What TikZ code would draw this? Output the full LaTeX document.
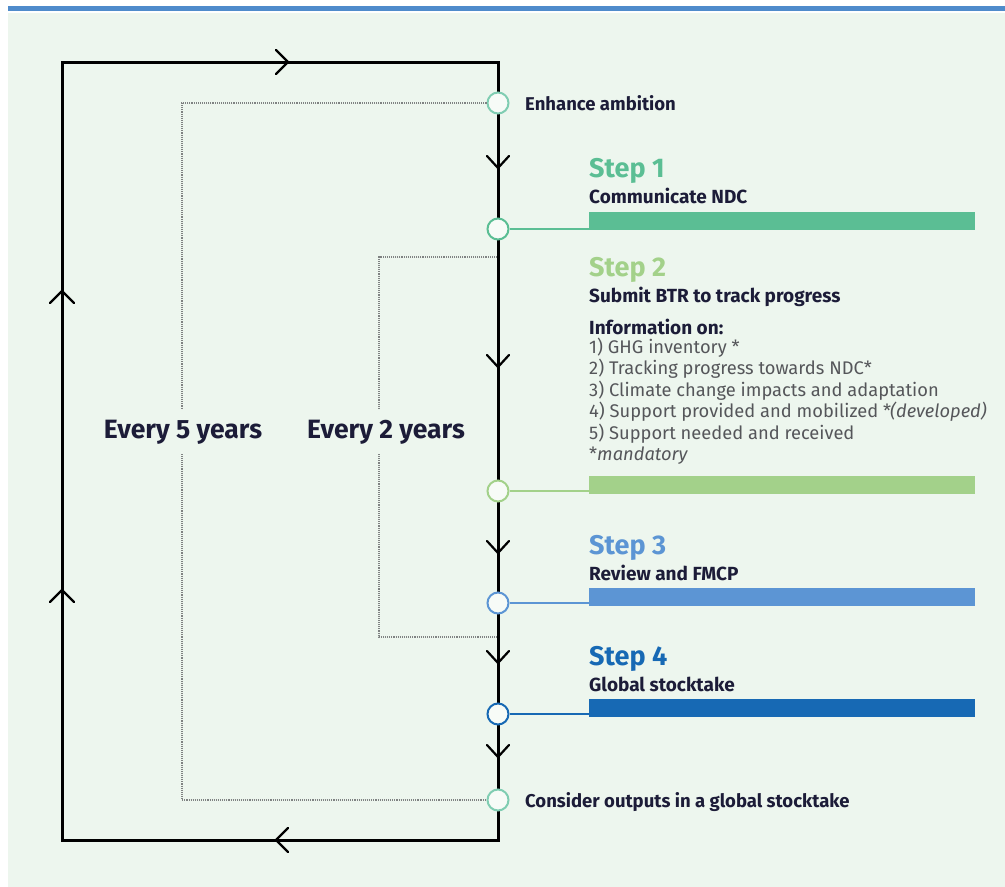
\documentclass[tikz,border=0pt]{standalone}
\usepackage{fontspec}
\setmainfont{Fira Sans}
\definecolor{bgc}{HTML}{EDF6EE}
\definecolor{topbar}{HTML}{4F8BCB}
\definecolor{cA}{HTML}{5BBE94}
\definecolor{cB}{HTML}{A3D18A}
\definecolor{cC}{HTML}{5C95D4}
\definecolor{cD}{HTML}{1769B4}
\definecolor{cE}{HTML}{80CDB2}
\definecolor{txt}{HTML}{1C1C38}
\definecolor{grey}{HTML}{55565A}
\definecolor{dotc}{HTML}{7F8282}
\begin{document}
\begin{tikzpicture}[x=1pt,y=-1pt,
  loopline/.style={line width=3pt,black},
  chev/.style={line width=2.2pt,black,line cap=round,line join=miter},
  dotline/.style={dotc,line width=1.1pt,densely dotted},
  circ/.style={circle,minimum size=21pt,inner sep=0pt,line width=2pt,fill=white!55!bgc},
  conn/.style={line width=2pt},
  barbox/.style={rectangle,minimum width=386pt,minimum height=18pt,inner sep=0pt,anchor=south west},
  lbl/.style={anchor=base west,inner sep=0pt,text=txt,font=\bfseries\fontsize{18.5}{21}\selectfont},
  steptitle/.style={anchor=base west,inner sep=0pt,font=\bfseries\fontsize{27}{30}\selectfont},
  stepsub/.style={anchor=base west,inner sep=0pt,text=txt,font=\bfseries\fontsize{19}{22}\selectfont},
  item/.style={anchor=base west,inner sep=0pt,text=grey,font=\fontsize{18.3}{21}\selectfont},
  every/.style={fill=bgc,inner xsep=3pt,inner ysep=10pt,text=txt,font=\bfseries\fontsize{26.5}{30}\selectfont}
]
\useasboundingbox (0,0) rectangle (1005,887);
\fill[white] (0,0) rectangle (1005,887);
\fill[bgc] (8,13) rectangle (1005,887);
\fill[topbar] (8,6) rectangle (1005,11);

% main loop corners
\coordinate (tl) at (62,62);
\coordinate (tr) at (498,62);
\coordinate (br) at (498,840);
\coordinate (bl) at (62,840);
\draw[loopline] (tl) -- (tr) -- (br) -- (bl) -- cycle;

% chevrons on the loop
\draw[chev] (276,50) -- (288,62) -- (276,74);
\draw[chev] (288,828) -- (276,840) -- (288,852);
\draw[chev] (50,303) -- (62,291) -- (74,303);
\draw[chev] (50,602) -- (62,590) -- (74,602);
\foreach \yy in {168,367,553,663,757}{
  \draw[chev] (487,\yy-12) -- (498,\yy) -- (509,\yy-12);
}

% circles
\node[circ,draw=cE] (ea) at (498,103) {};
\node[circ,draw=cA] (s1) at (498,229) {};
\node[circ,draw=cB] (s2) at (498,491) {};
\node[circ,draw=cC] (s3) at (498,603) {};
\node[circ,draw=cD] (s4) at (498,714) {};
\node[circ,draw=cE] (co) at (498,800) {};

% dotted frames
\coordinate (d2a) at (497,257);
\coordinate (d2b) at (497,637);
\draw[dotline] (ea.west) -| (182,800) -- (co.west);
\draw[dotline] (d2a) -| (379,637) -- (d2b);

% bars
\node[barbox,fill=cA] (b1) at (589,230.5) {};
\node[barbox,fill=cB] (b2) at (589,494.5) {};
\node[barbox,fill=cC] (b3) at (589,606.5) {};
\node[barbox,fill=cD] (b4) at (589,717.5) {};
\draw[conn,cA] (s1.east) -- (s1 -| b1.west);
\draw[conn,cB] (s2.east) -- (s2 -| b2.west);
\draw[conn,cC] (s3.east) -- (s3 -| b3.west);
\draw[conn,cD] (s4.east) -- (s4 -| b4.west);

% labels
\node[lbl] (eal) at (525,110) {Enhance ambition};
\node[lbl] (col) at (525,807) {Consider outputs in a global stocktake};

\node[every] (e5) at (183,432) {Every 5 years};
\node[every] (e2) at (386,432) {Every 2 years};

\node[steptitle,text=cA] (t1) at (589,177) {Step 1};
\node[stepsub] (u1) at (589,203) {Communicate NDC};

\node[steptitle,text=cB] (t2) at (589,276) {Step 2};
\node[stepsub] (u2) at (589,302) {Submit BTR to track progress};
\node[stepsub] (inf) at (589,334) {Information on:};
\node[item] (i1) at (589,353) {1) GHG inventory *};
\node[item] (i2) at (589,374.5) {2) Tracking progress towards NDC*};
\node[item] (i3) at (589,396) {3) Climate change impacts and adaptation};
\node[item] (i4) at (589,417.5) {4) Support provided and mobilized *\kern-1pt\textit{(developed)}};
\node[item] (i5) at (589,439) {5) Support needed and received};
\node[item] (i6) at (589,460.5) {*\textit{mandatory}};

\node[steptitle,text=cC] (t3) at (589,554) {Step 3};
\node[stepsub] (u3) at (589,580) {Review and FMCP};

\node[steptitle,text=cD] (t4) at (589,665) {Step 4};
\node[stepsub] (u4) at (589,691) {Global stocktake};
\end{tikzpicture}
\end{document}
